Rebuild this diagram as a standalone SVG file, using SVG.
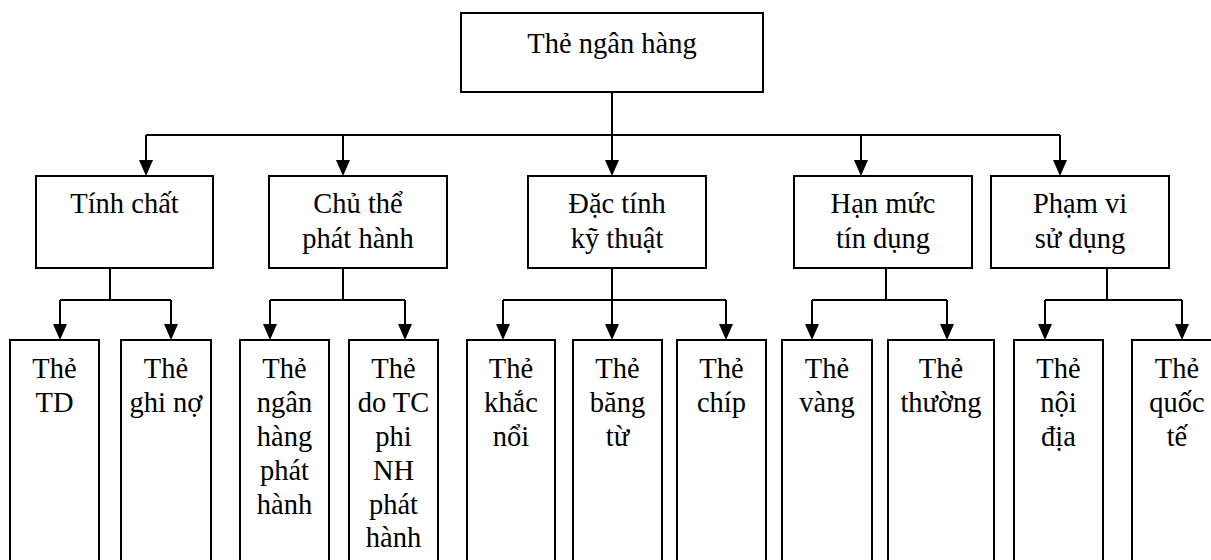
<svg xmlns="http://www.w3.org/2000/svg" width="1211" height="560" viewBox="0 0 1211 560">
<style>
.box{fill:#fff;stroke:#000;stroke-width:2}
.ln{fill:none;stroke:#000;stroke-width:2}
.arr{fill:none;stroke:#000;stroke-width:2;marker-end:url(#ah)}
text{font-family:"Liberation Serif","Times New Roman",serif;font-size:28.5px;fill:#000;text-anchor:middle}
</style>
<defs>
<marker id="ah" markerUnits="userSpaceOnUse" markerWidth="16" markerHeight="14" refX="0" refY="7" orient="auto" viewBox="0 0 16 14">
<path d="M0,0 L16,7 L0,14 z" fill="#000"/>
</marker>
</defs>
<rect width="1211" height="560" fill="#fff"/>
<g id="connectors">
<path class="ln" d="M612,92 V135 M146,135 H1060"/>
<path class="arr" d="M146,135 V160"/>
<path class="arr" d="M343,135 V160"/>
<path class="arr" d="M612,135 V160"/>
<path class="arr" d="M861,135 V160"/>
<path class="arr" d="M1060,135 V160"/>
<path class="ln" d="M110,268 V300 M60,300 H171"/>
<path class="ln" d="M343,268 V300 M270,300 H405"/>
<path class="ln" d="M612,268 V300 M503,300 H726"/>
<path class="ln" d="M886,268 V300 M812,300 H947"/>
<path class="ln" d="M1107,268 V300 M1045,300 H1182"/>
<path class="arr" d="M60,300 V324"/>
<path class="arr" d="M171,300 V324"/>
<path class="arr" d="M270,300 V324"/>
<path class="arr" d="M405,300 V324"/>
<path class="arr" d="M503,300 V324"/>
<path class="arr" d="M612,300 V324"/>
<path class="arr" d="M726,300 V324"/>
<path class="arr" d="M812,300 V324"/>
<path class="arr" d="M947,300 V324"/>
<path class="arr" d="M1045,300 V324"/>
<path class="arr" d="M1182,300 V324"/>
</g>
<g id="root"><rect class="box" x="461" y="13" width="302" height="79"/><text x="612" y="53">Thẻ ngân hàng</text></g>
<g id="tinh-chat"><rect class="box" x="36" y="176" width="177" height="92"/><text x="124.5" y="213">Tính chất</text></g>
<g id="chu-the"><rect class="box" x="269" y="176" width="178" height="92"/><text x="358" y="213">Chủ thể</text><text x="358" y="248">phát hành</text></g>
<g id="dac-tinh"><rect class="box" x="528" y="176" width="178" height="92"/><text x="617" y="213">Đặc tính</text><text x="617" y="248">kỹ thuật</text></g>
<g id="han-muc"><rect class="box" x="794" y="176" width="178" height="92"/><text x="883" y="213">Hạn mức</text><text x="883" y="248">tín dụng</text></g>
<g id="pham-vi"><rect class="box" x="991" y="176" width="178" height="92"/><text x="1080" y="213">Phạm vi</text><text x="1080" y="248">sử dụng</text></g>
<g id="the-td"><rect class="box" x="10" y="340" width="89" height="240"/><text x="54.5" y="378">Thẻ</text><text x="54.5" y="412">TD</text></g>
<g id="the-ghi-no"><rect class="box" x="121" y="340" width="90" height="240"/><text x="166" y="378">Thẻ</text><text x="166" y="412">ghi nợ</text></g>
<g id="the-nh"><rect class="box" x="240" y="340" width="89" height="240"/><text x="284.5" y="378">Thẻ</text><text x="284.5" y="412">ngân</text><text x="284.5" y="446">hàng</text><text x="284.5" y="480">phát</text><text x="284.5" y="513.5">hành</text></g>
<g id="the-tc"><rect class="box" x="349" y="340" width="89" height="240"/><text x="393.5" y="378">Thẻ</text><text x="393.5" y="412">do TC</text><text x="393.5" y="446">phi</text><text x="393.5" y="480">NH</text><text x="393.5" y="513.5">phát</text><text x="393.5" y="547">hành</text></g>
<g id="the-khac-noi"><rect class="box" x="467" y="340" width="88" height="240"/><text x="511" y="378">Thẻ</text><text x="511" y="412">khắc</text><text x="511" y="446">nổi</text></g>
<g id="the-bang-tu"><rect class="box" x="573" y="340" width="89" height="240"/><text x="617.5" y="378">Thẻ</text><text x="617.5" y="412">băng</text><text x="617.5" y="446">từ</text></g>
<g id="the-chip"><rect class="box" x="677" y="340" width="89" height="240"/><text x="721.5" y="378">Thẻ</text><text x="721.5" y="412">chíp</text></g>
<g id="the-vang"><rect class="box" x="782" y="340" width="90" height="240"/><text x="827" y="378">Thẻ</text><text x="827" y="412">vàng</text></g>
<g id="the-thuong"><rect class="box" x="888" y="340" width="106" height="240"/><text x="941" y="378">Thẻ</text><text x="941" y="412">thường</text></g>
<g id="the-noi-dia"><rect class="box" x="1014" y="340" width="89" height="240"/><text x="1058.5" y="378">Thẻ</text><text x="1058.5" y="412">nội</text><text x="1058.5" y="446">địa</text></g>
<g id="the-quoc-te"><rect class="box" x="1132" y="340" width="90" height="240"/><text x="1177" y="378">Thẻ</text><text x="1177" y="412">quốc</text><text x="1177" y="446">tế</text></g>
</svg>
